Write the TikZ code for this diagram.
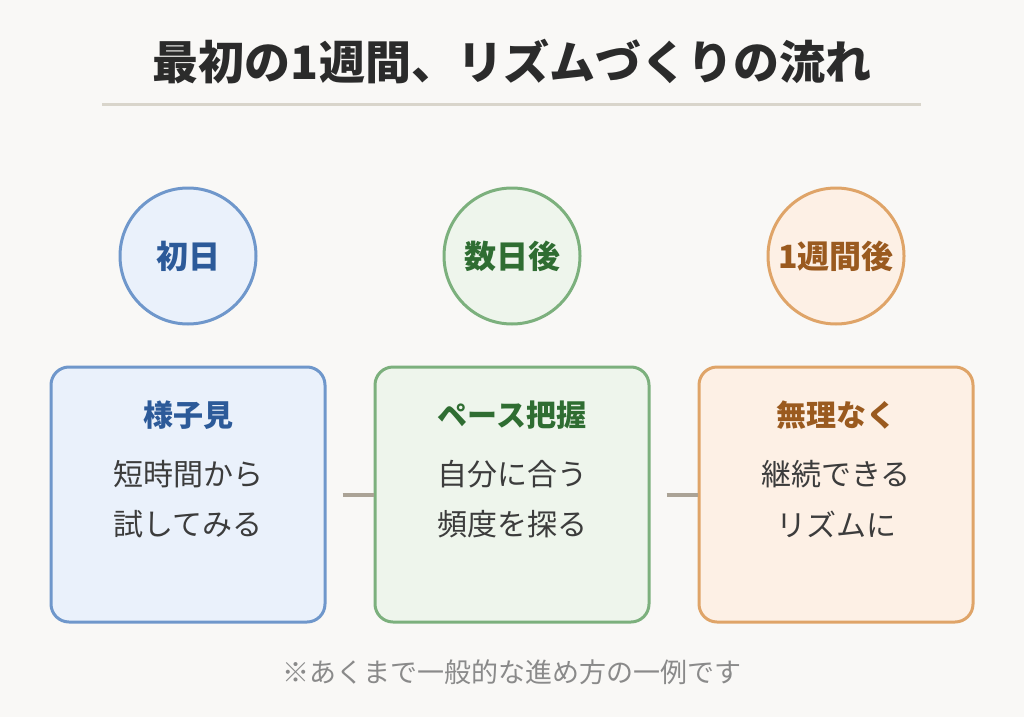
\documentclass[tikz,border=0pt]{standalone}
\usepackage{fontspec}
\setmainfont{Noto Sans CJK JP}
\definecolor{bg}{HTML}{F9F8F6}
\definecolor{rule}{HTML}{D9D5CB}
\definecolor{conncol}{HTML}{ABA396}
\definecolor{ink}{HTML}{2B2B2B}
\definecolor{body}{HTML}{3C3C3C}
\definecolor{note}{HTML}{8A8A8A}
\definecolor{bfill}{HTML}{EAF1FB}\definecolor{bline}{HTML}{6F97CB}\definecolor{btext}{HTML}{2C5A99}
\definecolor{gfill}{HTML}{EEF5EC}\definecolor{gline}{HTML}{7CB07D}\definecolor{gtext}{HTML}{2F6D32}
\definecolor{ofill}{HTML}{FDF0E5}\definecolor{oline}{HTML}{DFA468}\definecolor{otext}{HTML}{9A5A1F}
\tikzset{
  circ/.style={circle, minimum size=136pt, inner sep=0pt, line width=3pt, font=\fontsize{32}{38}\selectfont\bfseries},
  stage/.style={rounded corners=18pt, minimum width=274pt, minimum height=255pt, inner sep=0pt, line width=3pt},
  boxtitle/.style={font=\fontsize{30}{36}\selectfont\bfseries, inner sep=0pt},
  boxbody/.style={font=\fontsize{30}{50}\selectfont, text=body, align=center, inner sep=0pt},
  conn/.style={line width=4pt, draw=conncol},
}
\begin{document}
\begin{tikzpicture}[x=1pt,y=-1pt]
\useasboundingbox[fill=bg] (0,0) rectangle (1024,717);
\node[font=\fontsize{46}{52}\selectfont\bfseries, text=ink, inner sep=0pt] (title) at (512,62) {最初の1週間、リズムづくりの流れ};
\draw[draw=rule, line width=3pt] (102,104) coordinate (r1) -- (921,104) coordinate (r2);
% circles
\node[circ, draw=bline, fill=bfill, text=btext] (c1) at (188,256) {初日};
\node[circ, draw=gline, fill=gfill, text=gtext] (c2) at (512,256) {数日後};
\node[circ, draw=oline, fill=ofill, text=otext] (c3) at (836,256) {1週間後};
% boxes
\node[stage, draw=bline, fill=bfill] (b1) at (188,494.5) {};
\node[stage, draw=gline, fill=gfill] (b2) at (512,494.5) {};
\node[stage, draw=oline, fill=ofill] (b3) at (836,494.5) {};
% connectors
\draw[conn] ([xshift=16pt]b1.east) -- (b2.west);
\draw[conn] ([xshift=16pt]b2.east) -- (b3.west);
% box texts
\node[boxtitle, text=btext] (t1) at (188,415) {様子見};
\node[boxtitle, text=gtext] (t2) at (512,415) {ペース把握};
\node[boxtitle, text=otext] (t3) at (836,415) {無理なく};
\node[boxbody] (x1a) at (188,474) {短時間から};
\node[boxbody] (x1b) at (188,524) {試してみる};
\node[boxbody] (x2a) at (512,474) {自分に合う};
\node[boxbody] (x2b) at (512,524) {頻度を探る};
\node[boxbody] (x3a) at (836,474) {継続できる};
\node[boxbody] (x3b) at (836,524) {リズムに};
% footnote
\node[font=\fontsize{27}{32}\selectfont, text=note, inner sep=0pt] (note) at (512,672) {※あくまで一般的な進め方の一例です};
\end{tikzpicture}
\end{document}
